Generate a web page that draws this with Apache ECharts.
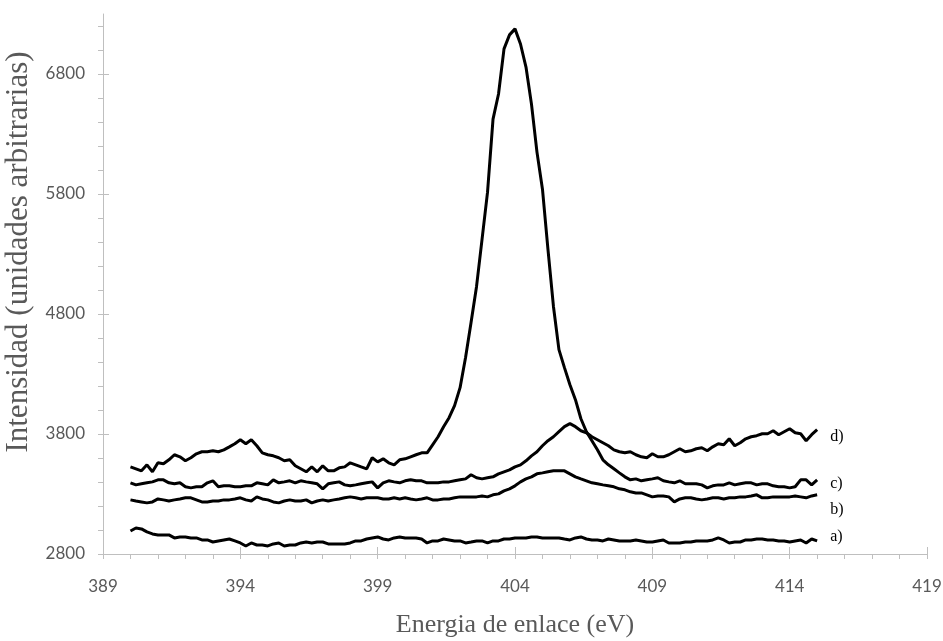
<!DOCTYPE html>
<html>
<head>
<meta charset="utf-8">
<script src="https://cdn.jsdelivr.net/npm/echarts@6/dist/echarts.min.js"></script>
<style>html,body{margin:0;padding:0;background:#fff}#chart{width:943px;height:641px}</style>
</head>
<body>
<div id="chart"></div>
<script>
// Binding energy (eV)
const energy = [
390.0,390.2,390.4,390.6,390.8,391.0,391.2,391.4,391.6,391.8,
392.0,392.2,392.4,392.6,392.8,393.0,393.2,393.4,393.6,393.8,
394.0,394.2,394.4,394.6,394.8,395.0,395.2,395.4,395.6,395.8,
396.0,396.2,396.4,396.6,396.8,397.0,397.2,397.4,397.6,397.8,
398.0,398.2,398.4,398.6,398.8,399.0,399.2,399.4,399.6,399.8,
400.0,400.2,400.4,400.6,400.8,401.0,401.2,401.4,401.6,401.8,
402.0,402.2,402.4,402.6,402.8,403.0,403.2,403.4,403.6,403.8,
404.0,404.2,404.4,404.6,404.8,405.0,405.2,405.4,405.6,405.8,
406.0,406.2,406.4,406.6,406.8,407.0,407.2,407.4,407.6,407.8,
408.0,408.2,408.4,408.6,408.8,409.0,409.2,409.4,409.6,409.8,
410.0,410.2,410.4,410.6,410.8,411.0,411.2,411.4,411.6,411.8,
412.0,412.2,412.4,412.6,412.8,413.0,413.2,413.4,413.6,413.8,
414.0,414.2,414.4,414.6,414.8,415.0
];

const seriesA = [
2992,3017,3009,2984,2967, 2959,2959,2959,2934,2942,
2942,2934,2934,2917,2917, 2900,2909,2917,2925,2909,
2892,2867,2892,2875,2875, 2867,2884,2892,2867,2875,
2875,2892,2900,2892,2900, 2900,2884,2884,2884,2884,
2892,2909,2909,2925,2934, 2942,2925,2917,2934,2942,
2934,2934,2934,2925,2892, 2909,2909,2925,2917,2909,
2909,2892,2900,2909,2909, 2892,2909,2909,2925,2925,
2934,2934,2934,2942,2942, 2934,2934,2934,2934,2925,
2917,2934,2942,2925,2917, 2917,2909,2925,2917,2909,
2909,2909,2917,2909,2900, 2900,2909,2917,2892,2892,
2892,2900,2900,2909,2909, 2909,2917,2934,2917,2892,
2900,2900,2917,2917,2925, 2925,2917,2917,2909,2909,
2900,2909,2917,2892,2925, 2909
];

const seriesB = [
3251,3242,3234,3226,3234, 3259,3251,3242,3251,3259,
3268,3268,3251,3234,3234, 3242,3242,3251,3251,3259,
3268,3251,3242,3276,3259, 3251,3234,3226,3242,3251,
3242,3242,3251,3226,3242, 3251,3242,3251,3259,3268,
3276,3268,3259,3268,3268, 3268,3259,3259,3268,3259,
3268,3259,3251,3259,3268, 3251,3251,3259,3259,3268,
3276,3276,3276,3276,3284, 3276,3293,3301,3326,3343,
3368,3401,3426,3443,3468, 3476,3485,3493,3493,3493,
3468,3443,3426,3410,3393, 3385,3376,3368,3360,3343,
3335,3318,3309,3309,3293, 3276,3284,3284,3276,3234,
3259,3268,3268,3259,3251, 3259,3268,3268,3259,3268,
3268,3276,3276,3284,3293, 3268,3268,3276,3276,3276,
3276,3284,3276,3268,3284, 3293
];

const seriesC = [
3526,3510,3493,3543,3485, 3560,3552,3585,3627,3610,
3577,3602,3635,3652,3652, 3660,3652,3668,3693,3719,
3752,3719,3752,3702,3643, 3627,3618,3602,3577,3585,
3535,3510,3485,3526,3485, 3535,3493,3493,3518,3526,
3560,3543,3526,3510,3602, 3568,3593,3560,3543,3585,
3593,3610,3627,3643,3643, 3710,3777,3860,3936,4036,
4186,4437,4729,5030,5422, 5815,6424,6633,7009,7126,
7176,7050,6858,6549,6149, 5840,5339,4863,4503,4353,
4211,4086,3927,3819,3744, 3668,3585,3543,3510,3476,
3443,3418,3426,3410,3418, 3426,3435,3410,3401,3393,
3410,3385,3385,3385,3376, 3351,3368,3376,3376,3393,
3376,3385,3393,3393,3376, 3385,3385,3368,3360,3360,
3351,3360,3418,3418,3376, 3418
];

const seriesD = [
3393,3376,3385,3393,3401, 3418,3418,3393,3385,3393,
3360,3351,3360,3360,3393, 3410,3360,3368,3368,3360,
3360,3368,3368,3393,3385, 3376,3418,3393,3401,3410,
3393,3410,3401,3393,3385, 3343,3385,3393,3401,3376,
3368,3376,3385,3393,3401, 3351,3393,3410,3401,3393,
3410,3418,3410,3410,3393, 3393,3393,3401,3401,3410,
3418,3426,3460,3435,3426, 3435,3443,3468,3485,3501,
3526,3543,3577,3618,3652, 3702,3744,3777,3819,3861,
3886,3861,3827,3810,3777, 3752,3727,3702,3668,3652,
3643,3652,3627,3610,3602, 3635,3610,3610,3627,3652,
3677,3652,3660,3677,3685, 3660,3693,3719,3710,3760,
3702,3727,3760,3777,3786, 3802,3802,3827,3794,3819,
3844,3810,3802,3744,3794, 3836
];

const seriesNames = ['a)', 'b)', 'c)', 'd)'];
const yLabelTicks = [2800, 3800, 4800, 5800, 6800];
const yMinorTicks = [2800,3000,3200,3400,3600,3800,4000,4200,4400,4600,4800,5000,5200,5400,5600,5800,6000,6200,6400,6600,6800,7000,7200];
const xTitle = 'Energia de enlace (eV)';
const yTitle = 'Intensidad (unidades arbitrarias)';

const gray = '#595959';
const axisGray = '#bfbfbf';
const labelFont = 'Lato, "Open Sans", sans-serif';
const serif = '"Liberation Serif", "Times New Roman", serif';
const gridRect = {left: 103, right: 16, top: 14, bottom: 87, outerBoundsMode: 'none', containLabel: false};

function makeSeries(name, vals, offset) {
  return {
    name: name,
    type: 'line',
    xAxisIndex: 0, yAxisIndex: 0,
    data: energy.map((e, i) => [e, vals[i]]),
    showSymbol: false,
    symbol: 'none',
    lineStyle: {color: '#000', width: 3},
    itemStyle: {color: '#000'},
    endLabel: {show: true, formatter: '{a}', color: '#000', fontFamily: serif, fontSize: 16, offset: offset},
    silent: true
  };
}

const plain = v => String(v);

const chart = echarts.init(document.getElementById('chart'), null, {renderer: 'canvas'});
chart.setOption({
  animation: false,
  backgroundColor: '#fff',
  grid: [Object.assign({}, gridRect), Object.assign({}, gridRect)],
  xAxis: [
    {
      gridIndex: 0, type: 'value', min: 389, max: 419, interval: 5,
      axisLine: {show: true, onZero: false, lineStyle: {color: axisGray, width: 1}},
      axisTick: {show: true, length: 5, lineStyle: {color: axisGray}},
      minorTick: {show: true, splitNumber: 5, length: 5, lineStyle: {color: axisGray}},
      splitLine: {show: false}, minorSplitLine: {show: false},
      axisLabel: {color: gray, fontFamily: labelFont, fontSize: 17, margin: 24, formatter: plain},
      name: xTitle, nameLocation: 'middle', nameGap: 58,
      nameTextStyle: {color: gray, fontFamily: serif, fontSize: 26}
    },
    {
      gridIndex: 1, type: 'value', min: 389, max: 419, interval: 5,
      axisLine: {show: false, onZero: false},
      axisTick: {show: true, inside: true, length: 7, lineStyle: {color: axisGray}},
      axisLabel: {show: false}, splitLine: {show: false}
    }
  ],
  yAxis: [
    {
      gridIndex: 0, type: 'value', min: 2800, max: 7300,
      axisLine: {show: true, onZero: false, lineStyle: {color: axisGray, width: 1}},
      axisTick: {show: true, length: 5, customValues: yMinorTicks, lineStyle: {color: axisGray}},
      splitLine: {show: false},
      axisLabel: {customValues: yLabelTicks, color: gray, fontFamily: labelFont, fontSize: 17, margin: 18, formatter: plain},
      name: yTitle, nameLocation: 'middle', nameGap: 63,
      nameTextStyle: {color: gray, fontFamily: serif, fontSize: 31, padding: [0, 0, 0, 64]}
    },
    {
      gridIndex: 1, type: 'value', min: 2800, max: 7300,
      axisLine: {show: false, onZero: false},
      axisTick: {show: true, inside: true, length: 6, customValues: yLabelTicks, lineStyle: {color: axisGray}},
      axisLabel: {show: false}, splitLine: {show: false}
    }
  ],
  series: [
    makeSeries(seriesNames[0], seriesA, [5, -4]),
    makeSeries(seriesNames[1], seriesB, [5, 15]),
    makeSeries(seriesNames[2], seriesC, [5, 4]),
    makeSeries(seriesNames[3], seriesD, [5, 7])
  ]
});
</script>
</body>
</html>
